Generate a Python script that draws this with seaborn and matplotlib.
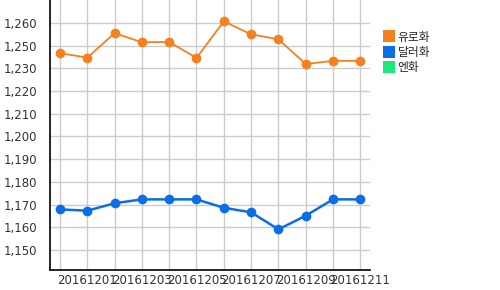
import matplotlib
matplotlib.use("Agg")
import matplotlib.pyplot as plt
from matplotlib.lines import Line2D
import seaborn as sns
import pandas as pd

dates = ["20161130", "20161201", "20161202", "20161203", "20161204", "20161205",
         "20161206", "20161207", "20161208", "20161209", "20161210", "20161211"]
euro = [1236.7, 1234.7, 1245.5, 1241.5, 1241.6, 1234.6,
        1250.7, 1245.0, 1242.8, 1231.9, 1233.3, 1233.3]
dollar = [1167.9, 1167.3, 1170.6, 1172.3, 1172.3, 1172.3,
          1168.6, 1166.6, 1159.1, 1165.1, 1172.3, 1172.3]
series_names = ["유로화", "달러화", "엔화"]
colors = ["#F5801E", "#0A6EE8", "#1DE87C"]
ytick_values = [1150, 1160, 1170, 1180, 1190, 1200, 1210, 1220, 1230, 1240, 1250]
ytick_labels = ["1,150", "1,160", "1,170", "1,180", "1,190", "1,200",
                "1,210", "1,220", "1,230", "1,250", "1,260"]

sns.set_style("white")
plt.rcParams["font.family"] = ["DejaVu Sans", "Noto Sans CJK KR"]

df = pd.DataFrame({
    "idx": list(range(len(dates))) * 2,
    "value": euro + dollar,
    "series": [series_names[0]] * len(dates) + [series_names[1]] * len(dates),
})

fig = plt.figure(figsize=(5, 2.9), dpi=100)
ax = fig.add_axes([50 / 500, 20 / 290, 320 / 500, 270 / 290])

sns.lineplot(data=df, x="idx", y="value", hue="series",
             palette={series_names[0]: colors[0], series_names[1]: colors[1]},
             marker="o", markersize=7, markeredgewidth=0, linewidth=1.3,
             ax=ax, legend=False, zorder=3)
for ln in ax.lines:
    if ln.get_color().lower() == colors[1].lower():
        ln.set_linewidth(1.8)

ax.set_xlim(-0.366, 11.355)
ax.set_ylim(1141.2, 1260.1)
ax.set_xticks(range(len(dates)))
ax.set_xticklabels([d if i % 2 == 1 else "" for i, d in enumerate(dates)])
ax.set_yticks(ytick_values)
ax.set_yticklabels(ytick_labels)
ax.set_xlabel("")
ax.set_ylabel("")
ax.grid(True, color="#CCCCCC", linewidth=1)
ax.set_axisbelow(True)
ax.tick_params(axis="both", length=0, labelsize=8.5, colors="#333333")
ax.tick_params(axis="y", pad=9)
ax.tick_params(axis="x", pad=3)
for s in ["top", "right"]:
    ax.spines[s].set_visible(False)
for s in ["left", "bottom"]:
    ax.spines[s].set_color("black")
    ax.spines[s].set_linewidth(1.2)

handles = [Line2D([], [], marker="s", linestyle="none", markersize=8,
                  markerfacecolor=c, markeredgewidth=0) for c in colors]
fig.legend(handles, series_names, loc="upper left",
           bbox_to_anchor=(374 / 500, 1 - 20 / 290), frameon=False,
           handlelength=0.8, handletextpad=0.3, labelspacing=0.2,
           prop={"family": ["Noto Sans CJK KR", "DejaVu Sans"], "size": 8.5})

fig.savefig("out.png", dpi=100)
